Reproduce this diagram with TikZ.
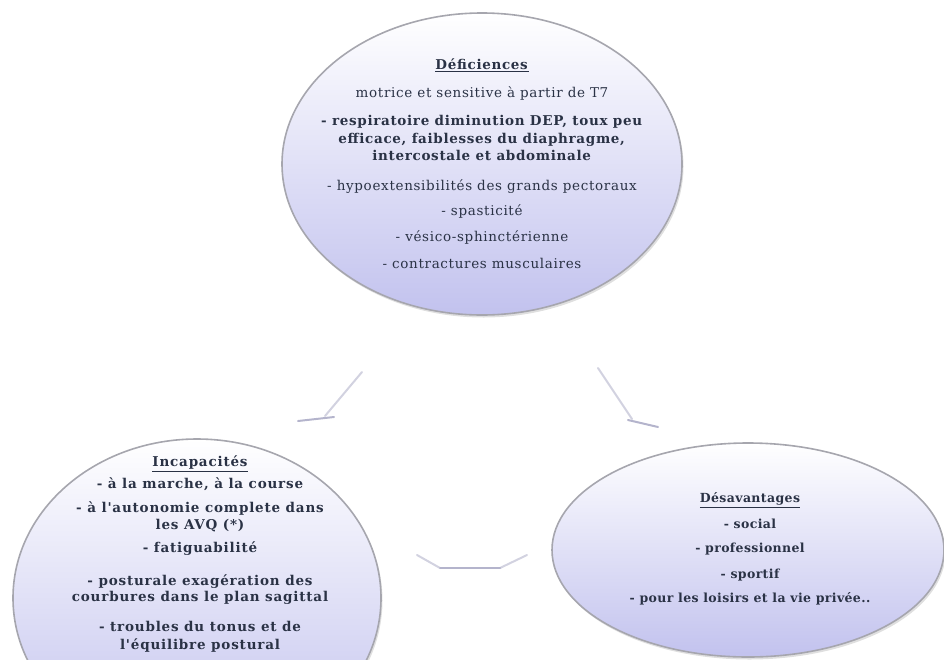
\documentclass[tikz,border=0pt]{standalone}
\usepackage{fontspec}
\setmainfont{DejaVu Serif}
\newfontfamily\serifhaut[LetterSpace=5]{DejaVu Serif}
\newfontfamily\serifgauche[LetterSpace=6]{DejaVu Serif}
\newfontfamily\serifdroite[LetterSpace=3]{DejaVu Serif}
\usepackage{xcolor}
\usepackage{tikz}
\usetikzlibrary{calc, positioning, shapes.geometric, shadows}
\definecolor{lavande}{HTML}{C2C2EE}
\definecolor{bord}{HTML}{A6A6AE}
\definecolor{encre}{HTML}{2A3245}
\definecolor{fleche}{HTML}{D2D2E0}
\definecolor{flechefonce}{HTML}{B4B4CC}
\tikzset{
    bulle/.style={ellipse, draw=bord, line width=1.6pt, top color=white, bottom color=lavande, inner sep=0pt,
        drop shadow={shadow xshift=1.5pt, shadow yshift=-2.5pt, opacity=0.25, fill=gray}},
    texte/.style={align=center, text=encre, inner sep=0pt, font=\serifhaut\fontsize{13.5}{17}\selectfont},
    gauche/.style={texte, font=\serifgauche\fontsize{13.5}{16}\selectfont\bfseries},
    droite/.style={texte, font=\serifdroite\fontsize{12.5}{16}\selectfont\bfseries},
    trait/.style={draw=fleche, line width=2pt, line cap=round},
    barbe/.style={draw=flechefonce, line width=2pt, line cap=round}
}

\begin{document}
\begin{tikzpicture}[x=1pt, y=-1pt]
    \useasboundingbox (0,0) rectangle (944,659);
    \clip (0,0) rectangle (944,659);

    % les trois bulles
    \node[bulle, minimum width=400, minimum height=302] (defic) at (482,164) {};
    \node[bulle, minimum width=368, minimum height=318] (incap) at (197,598) {};
    \node[bulle, minimum width=392, minimum height=214] (desav) at (748,550) {};

    \node[texte] (deficTxt) at (482,164) {%
        \underline{\textbf{Déficiences}}\\[11pt]
        motrice et sensitive à partir de T7\\[11pt]
        \textbf{- respiratoire  diminution DEP, toux peu}\\[1pt]
        \textbf{efficace, faiblesses du diaphragme,}\\
        \textbf{intercostale et abdominale}\\[13pt]
        - hypoextensibilités des grands pectoraux\\[8pt]
        - spasticité\\[9pt]
        - vésico-sphinctérienne\\[10pt]
        - contractures musculaires};

    \node[gauche] (incapTxt) at (200,554) {%
        \underline{Incapacités}\\[6pt]
        - à la marche, à la course\\[8pt]
        - à l'autonomie complete dans\\[1pt]
        les AVQ (*)\\[7pt]
        - fatiguabilité\\[17pt]
        - posturale  exagération des\\
        courbures dans le plan sagittal\\[14pt]
        - troubles du tonus et de\\[2pt]
        l'équilibre postural};

    \node[droite] (desavTxt) at (750,549) {%
        \underline{Désavantages}\\[10pt]
        - social\\[8pt]
        - professionnel\\[10pt]
        - sportif\\[8pt]
        - pour les loisirs et la vie privée..};

    % fleches estompees
    \coordinate (g1) at (362,372);
    \coordinate (g2) at (325,416);
    \coordinate (g3) at (298,421);
    \coordinate (g4) at (334,417);
    \draw[trait] (g1) -- (g2);
    \draw[barbe] (g3) -- (g4);

    \coordinate (d1) at (598,368);
    \coordinate (d2) at (632,419);
    \coordinate (d3) at (628,420);
    \coordinate (d4) at (658,427);
    \draw[trait] (d1) -- (d2);
    \draw[barbe] (d3) -- (d4);

    \coordinate (h1) at (417,555);
    \coordinate (h2) at (440,568);
    \coordinate (h3) at (500,568);
    \coordinate (h4) at (527,555);
    \draw[trait] (h1) -- (h2) (h3) -- (h4);
    \draw[barbe] (h2) -- (h3);
\end{tikzpicture}
\end{document}
